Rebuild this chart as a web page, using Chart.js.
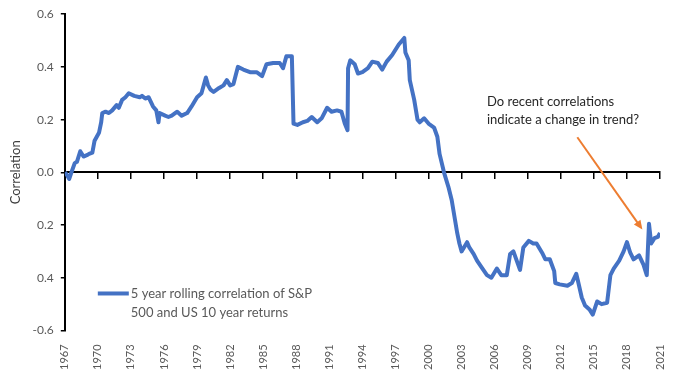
<!DOCTYPE html>
<html>
<head>
<meta charset="utf-8">
<script src="https://cdn.jsdelivr.net/npm/chart.js@4.4.0/dist/chart.umd.min.js"></script>
<style>
  html, body { margin: 0; padding: 0; background: #fff; }
  #wrap { width: 680px; height: 387px; position: relative; }
</style>
</head>
<body>
<div id="wrap"><canvas id="mycanvas"></canvas></div>
<script>
// values (decimal year, correlation)
var dates = [
  1967.0, 1967.2, 1967.4, 1967.6, 1967.9, 1968.1, 1968.4, 1968.7, 1969.0, 1969.2,
  1969.5, 1969.7, 1970.1, 1970.3, 1970.4, 1970.7, 1971.0, 1971.3, 1971.7, 1971.9,
  1972.2, 1972.5, 1972.8, 1973.3, 1973.8, 1974.0, 1974.3, 1974.6, 1975.0, 1975.3,
  1975.5, 1975.6, 1976.1, 1976.4, 1976.7, 1977.2, 1977.6, 1978.1, 1978.5, 1979.0,
  1979.4, 1979.8, 1980.0, 1980.2, 1980.5, 1981.0, 1981.4, 1981.7, 1982.0, 1982.3,
  1982.7, 1983.2, 1983.8, 1984.4, 1984.9, 1985.3, 1985.9, 1986.5, 1986.8, 1987.1,
  1987.6, 1987.75, 1988.1, 1988.6, 1989.0, 1989.4, 1989.9, 1990.3, 1990.8, 1991.2,
  1991.7, 1992.1, 1992.4, 1992.65, 1992.7, 1992.9, 1993.3, 1993.6, 1994.0, 1994.5,
  1994.9, 1995.4, 1995.8, 1996.2, 1996.7, 1997.0, 1997.3, 1997.8, 1997.9, 1998.2,
  1998.3, 1998.7, 1999.0, 1999.2, 1999.6, 2000.0, 2000.5, 2000.8, 2001.0, 2001.4,
  2001.8, 2002.1, 2002.4, 2002.6, 2002.8, 2003.0, 2003.5, 2003.7, 2004.1, 2004.4,
  2004.8, 2005.3, 2005.7, 2006.2, 2006.6, 2007.1, 2007.4, 2007.7, 2008.0, 2008.3,
  2008.6, 2009.1, 2009.5, 2009.8, 2010.3, 2010.6, 2011.0, 2011.4, 2011.5, 2011.9,
  2012.6, 2013.0, 2013.4, 2013.6, 2013.9, 2014.2, 2014.6, 2014.9, 2015.3, 2015.7,
  2016.2, 2016.5, 2016.8, 2017.3, 2017.7, 2018.0, 2018.3, 2018.6, 2019.1, 2019.5,
  2019.8, 2020.0, 2020.2, 2020.5, 2020.8, 2021.0
];
var correlation = [
  0.00, -0.01, -0.025, 0.00, 0.035, 0.04, 0.08, 0.06, 0.065, 0.07,
  0.075, 0.12, 0.15, 0.19, 0.225, 0.23, 0.225, 0.235, 0.255, 0.245,
  0.275, 0.285, 0.30, 0.29, 0.285, 0.29, 0.28, 0.285, 0.25, 0.235,
  0.19, 0.225, 0.215, 0.21, 0.215, 0.23, 0.215, 0.225, 0.25, 0.285,
  0.30, 0.36, 0.33, 0.315, 0.305, 0.32, 0.33, 0.35, 0.33, 0.335,
  0.40, 0.39, 0.38, 0.38, 0.365, 0.41, 0.415, 0.415, 0.395, 0.44,
  0.44, 0.185, 0.18, 0.19, 0.195, 0.21, 0.19, 0.205, 0.245, 0.23,
  0.235, 0.23, 0.185, 0.16, 0.395, 0.425, 0.41, 0.375, 0.38, 0.395,
  0.42, 0.415, 0.39, 0.42, 0.445, 0.465, 0.485, 0.51, 0.455, 0.425,
  0.35, 0.275, 0.20, 0.19, 0.205, 0.185, 0.17, 0.135, 0.07, 0.00,
  -0.055, -0.105, -0.18, -0.23, -0.27, -0.30, -0.265, -0.285, -0.31, -0.335,
  -0.36, -0.39, -0.40, -0.365, -0.39, -0.39, -0.31, -0.30, -0.335, -0.37,
  -0.285, -0.26, -0.27, -0.27, -0.305, -0.33, -0.33, -0.375, -0.42, -0.425,
  -0.43, -0.42, -0.385, -0.42, -0.475, -0.505, -0.52, -0.54, -0.49, -0.50,
  -0.495, -0.39, -0.365, -0.335, -0.30, -0.265, -0.305, -0.33, -0.315, -0.35,
  -0.39, -0.195, -0.27, -0.25, -0.245, -0.23
];
var yearTicks = [1967, 1970, 1973, 1976, 1979, 1982, 1985, 1988, 1991, 1994,
                 1997, 2000, 2003, 2006, 2009, 2012, 2015, 2018, 2021];
// y tick labels as printed, bottom to top
var yTickLabels = ["-0.6", "0.4", "0.2", "0.0", "0.2", "0.4", "0.6"];
var seriesLabel = ["5 year rolling correlation of S&P", "500 and US 10 year returns"];
var noteText = ["Do recent correlations", "indicate a change in trend?"];
var arrowFrom = [2013.5, 0.133];
var arrowTo = [2019.4, -0.217];

var points = [];
for (var i in dates) {
  points.push({x: dates[i], y: correlation[i]});
}

var blue = "#4472C4";
var orange = "#ED7D31";
var font = "Lato, 'Open Sans', sans-serif";

var setYearTicks = function(scale) {
  scale.ticks = yearTicks.map(function(v) { return {value: v}; });
};

// legend and arrow note
var notes = {
  id: 'notes',
  afterDraw: function(chart) {
    var c = chart.ctx;
    var area = chart.chartArea;
    var xs = chart.scales.x, ys = chart.scales.y;
    c.save();
    // legend
    var ly = area.bottom - 37;
    c.strokeStyle = blue;
    c.lineWidth = 4;
    c.beginPath();
    c.moveTo(area.left + 33, ly);
    c.lineTo(area.left + 64, ly);
    c.stroke();
    c.fillStyle = "#595959";
    c.font = "13px " + font;
    c.textBaseline = "middle";
    c.textAlign = "left";
    c.fillText(seriesLabel[0], area.left + 66, ly);
    c.fillText(seriesLabel[1], area.left + 66, ly + 19);
    // note text
    c.fillStyle = "#262626";
    c.fillText(noteText[0], 487, 102);
    c.fillText(noteText[1], 487, 120);
    // arrow
    var x1 = xs.getPixelForValue(arrowFrom[0]), y1 = ys.getPixelForValue(arrowFrom[1]);
    var x2 = xs.getPixelForValue(arrowTo[0]), y2 = ys.getPixelForValue(arrowTo[1]);
    var ang = Math.atan2(y2 - y1, x2 - x1);
    c.strokeStyle = orange;
    c.fillStyle = orange;
    c.lineWidth = 2;
    c.beginPath();
    c.moveTo(x1, y1);
    c.lineTo(x2 - 6 * Math.cos(ang), y2 - 6 * Math.sin(ang));
    c.stroke();
    c.beginPath();
    c.moveTo(x2, y2);
    c.lineTo(x2 - 9 * Math.cos(ang) + 4 * Math.sin(ang), y2 - 9 * Math.sin(ang) - 4 * Math.cos(ang));
    c.lineTo(x2 - 9 * Math.cos(ang) - 4 * Math.sin(ang), y2 - 9 * Math.sin(ang) + 4 * Math.cos(ang));
    c.closePath();
    c.fill();
    c.restore();
  }
};

var ctx = document.getElementById("mycanvas");

var LineGraph = new Chart(ctx, {
  type: 'line',
  data: {
    datasets: [{
      label: seriesLabel.join(" "),
      data: points,
      borderColor: blue,
      backgroundColor: blue,
      borderWidth: 4,
      pointRadius: 0,
      fill: false,
      tension: 0,
      borderJoinStyle: 'round',
      xAxisID: 'x',
      yAxisID: 'y'
    }]
  },
  options: {
    responsive: true,
    maintainAspectRatio: false,
    animation: false,
    layout: { padding: { top: 8, right: 20, left: 4, bottom: 11 } },
    plugins: {
      legend: { display: false },
      tooltip: { enabled: false }
    },
    scales: {
      x: {
        type: 'linear',
        position: 'bottom',
        min: 1967,
        max: 2021,
        afterBuildTicks: setYearTicks,
        grid: { display: false },
        border: { display: false },
        ticks: {
          autoSkip: false,
          minRotation: 90,
          maxRotation: 90,
          padding: 6,
          color: "#595959",
          font: { family: font, size: 11 },
          callback: function(v) { return String(v); }
        }
      },
      xZero: {
        type: 'linear',
        position: { y: 0 },
        min: 1967,
        max: 2021,
        afterBuildTicks: setYearTicks,
        grid: { drawOnChartArea: false, drawTicks: true, tickLength: 6, color: "#000", lineWidth: 1.5 },
        border: { display: true, color: "#000", width: 2 },
        ticks: { display: false }
      },
      y: {
        min: -0.6,
        max: 0.6,
        grid: { drawOnChartArea: false, drawTicks: true, tickLength: 4, color: "#000", lineWidth: 1.5 },
        border: { color: "#000", width: 2 },
        ticks: {
          stepSize: 0.2,
          padding: 7,
          color: "#595959",
          font: { family: font, size: 12 },
          callback: function(v) {
            return yTickLabels[Math.round((v + 0.6) / 0.2)];
          }
        },
        title: {
          display: true,
          text: "Correlation",
          color: "#404040",
          font: { family: font, size: 13 },
          padding: { top: 4, bottom: 2 }
        }
      }
    }
  },
  plugins: [notes]
});
</script>
</body>
</html>
